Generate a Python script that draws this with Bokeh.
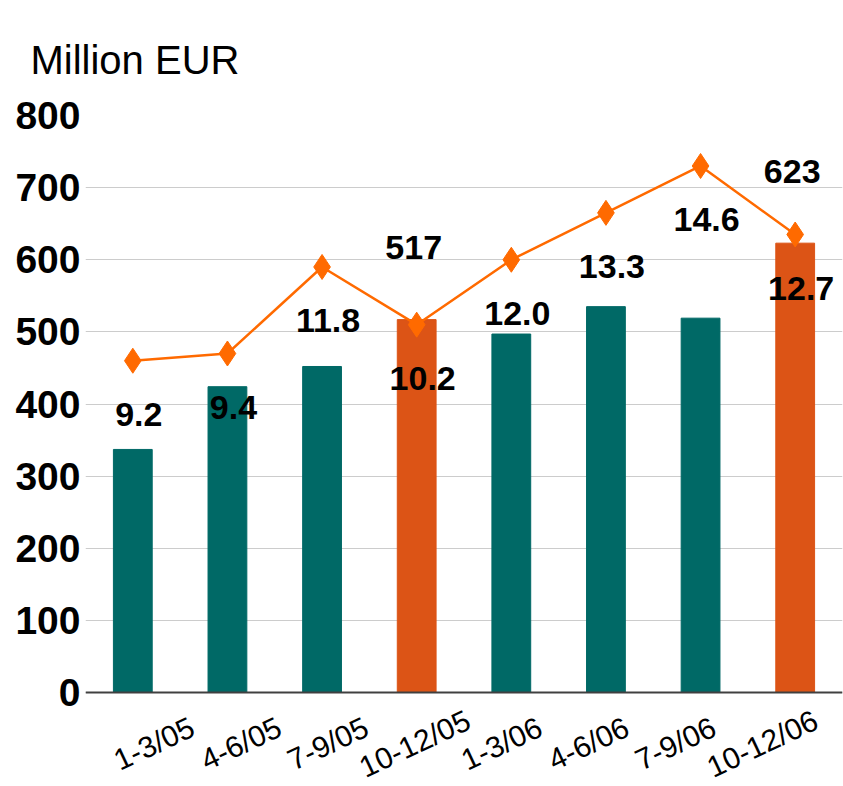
from bokeh.plotting import figure
from bokeh.models import ColumnDataSource, Range1d, Span, Title
from bokeh.core.properties import value
from bokeh.embed import file_html
from bokeh.resources import INLINE

quarters = ["1-3/05", "4-6/05", "7-9/05", "10-12/05", "1-3/06", "4-6/06", "7-9/06", "10-12/06"]
sales = [337, 424, 452, 517, 497, 535, 519, 623]
margin_pct = [9.2, 9.4, 11.8, 10.2, 12.0, 13.3, 14.6, 12.7]
y_ticks = [0, 100, 200, 300, 400, 500, 600, 700, 800]

TEAL = "#006966"
RUST = "#DC5416"
ORANGE = "#FF6A00"
FONT = "Liberation Sans"

# layout (pixels)
W, H = 843, 786
LEFT, TOP = 85, 115
ZERO_PX = 692
Y_MAX = 800
PCT_MAX = 16
y_min = -Y_MAX * (H - ZERO_PX) / (ZERO_PX - TOP)   # frame extends under the axis for labels

n = len(quarters)
idx = list(range(n))
is_q4 = [q.startswith("10-12") for q in quarters]
colors = [RUST if f else TEAL for f in is_q4]

src = ColumnDataSource(dict(i=idx, q=quarters, sales=sales, pct=margin_pct, color=colors,
                            pct_txt=["%.1f" % v for v in margin_pct],
                            zero=[0] * n))
q4 = ColumnDataSource(dict(i=[i for i, f in zip(idx, is_q4) if f],
                           sales=[s for s, f in zip(sales, is_q4) if f],
                           txt=[str(s) for s, f in zip(sales, is_q4) if f]))

p = figure(x_range=Range1d(-0.5, n - 0.5), y_range=Range1d(y_min, Y_MAX),
           width=W, height=H, output_backend="svg", toolbar_location=None,
           min_border_left=LEFT, min_border_right=1, min_border_top=TOP, min_border_bottom=0)
p.extra_y_ranges = {"pct": Range1d(PCT_MAX * y_min / Y_MAX, PCT_MAX)}
# category labels are spread slightly tighter than the bars
lab_step = 86.9
lab_first = 153.5
lab_start = -(lab_first - LEFT) / lab_step
lab_end = lab_start + (W - 1 - LEFT) / lab_step
p.extra_x_ranges = {"lab": Range1d(lab_start, lab_end)}
p.outline_line_color = None

t = Title(text="Million EUR", text_font=FONT, text_font_size="40px",
          text_font_style="normal", text_color="black", align="left", offset=-55,
          standoff=63, vertical_align="top")
p.add_layout(t, "above")

p.vbar(x="i", top="sales", width=0.41, color="color", source=src)
p.line(x="i", y="pct", y_range_name="pct", line_color=ORANGE, line_width=2.5, source=src)
p.scatter(x="i", y="pct", y_range_name="pct", marker="diamond", size=25,
          fill_color=ORANGE, line_color=ORANGE, source=src)

p.text(x="i", y="pct", text="pct_txt", y_range_name="pct", source=src,
       text_font=value(FONT), text_font_style="bold", text_font_size="34px",
       text_align="center", text_baseline="middle", x_offset=6, y_offset=54, text_color="black")
p.text(x="i", y="sales", text="txt", source=q4,
       text_font=value(FONT), text_font_style="bold", text_font_size="34px",
       text_align="center", text_baseline="middle", x_offset=-3, y_offset=-72, text_color="black")

p.text(x="i", y="zero", text="q", source=src, x_range_name="lab", angle=0.44,
       text_font=value(FONT), text_font_size="30px", text_align="center",
       text_baseline="middle", y_offset=51, text_color="black")

p.add_layout(Span(location=0, dimension="width", line_color="#404040", line_width=2))

p.xaxis.visible = False
p.xgrid.visible = False
p.ygrid.grid_line_color = "#cccccc"
p.ygrid.grid_line_width = 1
p.yaxis.ticker = y_ticks
p.yaxis.axis_line_color = None
p.yaxis.major_tick_line_color = None
p.yaxis.minor_tick_line_color = None
p.yaxis.major_tick_out = 0
p.yaxis.major_tick_in = 0
p.yaxis.major_label_text_font = FONT
p.yaxis.major_label_text_font_style = "bold"
p.yaxis.major_label_text_font_size = "39px"
p.yaxis.major_label_text_color = "black"
p.yaxis.major_label_standoff = 5

open("out.html", "w").write(file_html(p, INLINE))
